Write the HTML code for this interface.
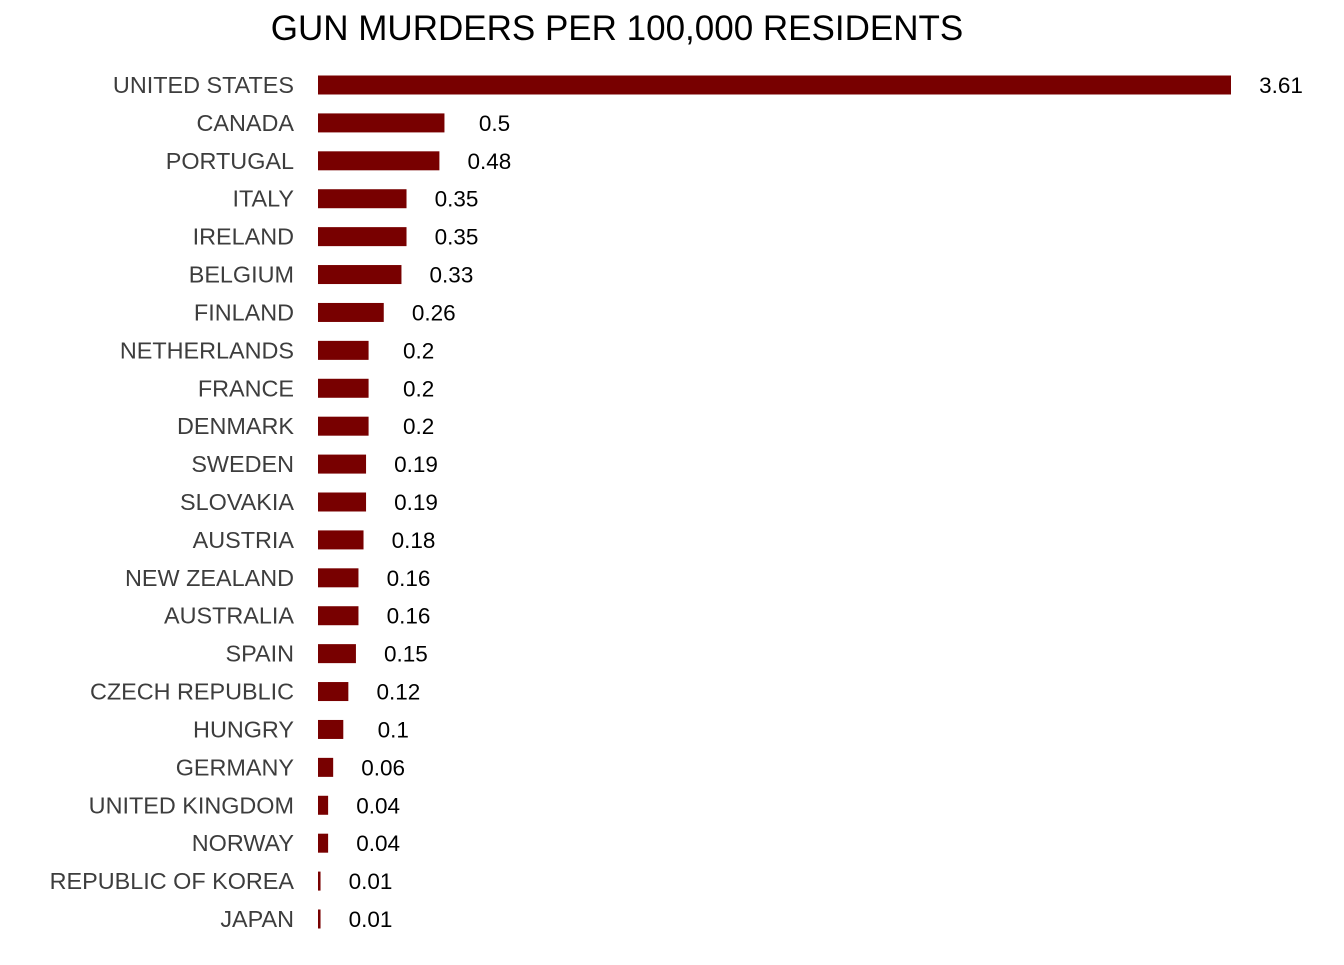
<!DOCTYPE html>
<html><head><meta charset="utf-8"><style>
body{margin:0;background:#fff;}
svg text{font-family:"Liberation Sans",Arial,sans-serif;}
</style></head><body>
<svg width="1344" height="960">
<text x="617" y="40" text-anchor="middle" font-size="35" fill="#000">GUN MURDERS PER 100,000 RESIDENTS</text>
<g id="plot"></g>
</svg>
<script>
const countries=["UNITED STATES","CANADA","PORTUGAL","ITALY","IRELAND","BELGIUM","FINLAND","NETHERLANDS","FRANCE","DENMARK","SWEDEN","SLOVAKIA","AUSTRIA","NEW ZEALAND","AUSTRALIA","SPAIN","CZECH REPUBLIC","HUNGRY","GERMANY","UNITED KINGDOM","NORWAY","REPUBLIC OF KOREA","JAPAN"];
const values=[3.61,0.5,0.48,0.35,0.35,0.33,0.26,0.2,0.2,0.2,0.19,0.19,0.18,0.16,0.16,0.15,0.12,0.1,0.06,0.04,0.04,0.01,0.01];
const valueLabels=["3.61","0.5","0.48","0.35","0.35","0.33","0.26","0.2","0.2","0.2","0.19","0.19","0.18","0.16","0.16","0.15","0.12","0.1","0.06","0.04","0.04","0.01","0.01"];
const NS="http://www.w3.org/2000/svg";
const g=document.getElementById('plot');
const x0=318,xScale=(1231-318)/3.61;
const xPos=v=>x0+v*xScale;
const yTop=85,yStep=(919-85)/(countries.length-1);
const yPos=i=>yTop+i*yStep;
countries.forEach((c,i)=>{
  const y=yPos(i);
  const r=document.createElementNS(NS,'rect');
  r.setAttribute('x',x0);r.setAttribute('y',y-9.5);
  r.setAttribute('width',Math.max(xPos(values[i])-x0,0));r.setAttribute('height',19);
  r.setAttribute('fill','#780000');
  
  
  g.appendChild(r);
  const t=document.createElementNS(NS,'text');
  t.setAttribute('x',294);t.setAttribute('y',y+8);t.setAttribute('text-anchor','end');
  t.setAttribute('font-size','23.4');t.setAttribute('fill','#3d3d3d');
  t.textContent=c;
  
  
  g.appendChild(t);
  const v=document.createElementNS(NS,'text');
  v.setAttribute('x',xPos(values[i])+50);v.setAttribute('y',y+8);v.setAttribute('text-anchor','middle');
  v.setAttribute('font-size','22.5');v.setAttribute('fill','#000');
  v.textContent=valueLabels[i];
  
  
  g.appendChild(v);
});
</script>
</body></html>
